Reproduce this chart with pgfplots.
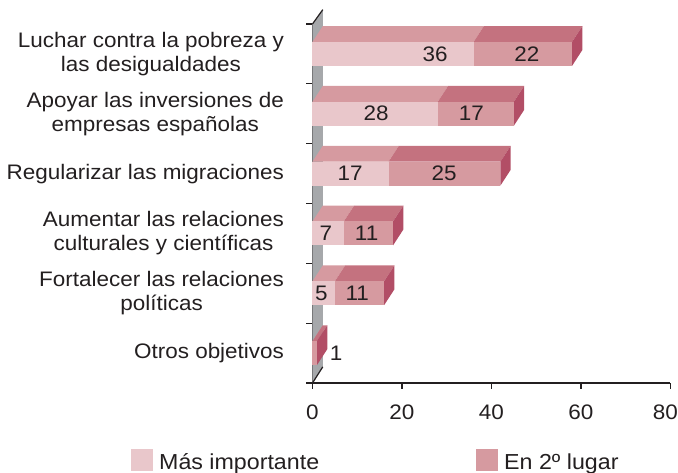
\documentclass[border=0pt]{standalone}
\usepackage{fontspec}
\setmainfont{Liberation Sans}[FakeStretch=1.07]
\usepackage{pgfplots}
\pgfplotsset{compat=1.18}
\definecolor{lfront}{HTML}{E9C7CB}
\definecolor{ltop}{HTML}{D69AA0}
\definecolor{dfront}{HTML}{D69AA0}
\definecolor{dtop}{HTML}{C4727F}
\definecolor{dside}{HTML}{B24E66}
\definecolor{wall}{HTML}{A6A8AB}
\definecolor{txt}{HTML}{231F20}
\def\hw{0.2}\def\dX{2.3}\def\dY{0.265}
% y position, value "Más importante", value "En 2º lugar"
\newcommand\threeDbar[3]{%
  \pgfmathsetmacro\yb{#1-\hw}%
  \pgfmathsetmacro\yt{#1+\hw}%
  \pgfmathsetmacro\yk{#1+\hw+\dY}%
  \pgfmathsetmacro\ybd{#1-\hw+\dY}%
  \pgfmathsetmacro\xa{#2}%
  \pgfmathsetmacro\xs{#2+#3}%
  \pgfmathsetmacro\xad{#2+\dX}%
  \pgfmathsetmacro\xsd{#2+#3+\dX}%
  \edef\temp{%
    \noexpand\addplot[fill=ltop,draw=none] coordinates {(0,\yt) (\xa,\yt) (\xad,\yk) (\dX,\yk)} -- cycle;
    \noexpand\addplot[fill=dtop,draw=none] coordinates {(\xa,\yt) (\xs,\yt) (\xsd,\yk) (\xad,\yk)} -- cycle;
    \noexpand\addplot[fill=dside,draw=none] coordinates {(\xs,\yb) (\xs,\yt) (\xsd,\yk) (\xsd,\ybd)} -- cycle;
    \noexpand\addplot[fill=lfront,draw=none] coordinates {(0,\yb) (\xa,\yb) (\xa,\yt) (0,\yt)} -- cycle;
    \noexpand\addplot[fill=dfront,draw=none] coordinates {(\xa,\yb) (\xs,\yb) (\xs,\yt) (\xa,\yt)} -- cycle;
  }\temp}
\begin{document}
\begin{tikzpicture}
\begin{axis}[
  at={(0,0)}, anchor=south west,
  scale only axis, width=358pt, height=359pt,
  xmin=0, xmax=80, ymin=-0.5, ymax=5.5,
  clip=false,
  axis x line=bottom, axis y line=left,
  axis line style={-, line width=1.2pt, color=txt},
  xtick={0,20,40,60,80},
  xticklabels={0,20,40,60,\hspace*{-10pt}80},
  ytick={0,...,5},
  yticklabels={Otros objetivos,{Fortalecer las relaciones\\políticas},{Aumentar las relaciones\\culturales y científicas},Regularizar las migraciones,{Apoyar las inversiones de\\empresas españolas},{Luchar contra la pobreza y\\las desigualdades}},
  minor ytick={-0.5,0.5,...,5.5},
  tick align=outside,
  major tick length=6pt, minor tick length=6pt,
  tick style={line width=1.2pt, color=txt},
  major y tick style={draw=none},
  /pgf/number format/assume math mode=true,
  every tick label/.append style={font=\fontsize{21}{24}\selectfont, text=txt},
  yticklabel style={align=center, xshift=-19pt},
  xticklabel style={yshift=-12pt},
  legend columns=2,
  legend image code/.code={\fill[#1] (0pt,-9pt) rectangle (22pt,13pt); \path (26pt,0pt);},
  legend style={draw=none, fill=none, at={(-0.507,-0.184)}, anchor=north west,
    inner sep=0pt, font=\fontsize{21.7}{24}\selectfont, text=txt,
    /tikz/every even column/.append style={column sep=155pt}},
  legend cell align=left,
]
\addlegendimage{fill=lfront, draw=none}
\addlegendentry{Más importante}
\addlegendimage{fill=dfront, draw=none}
\addlegendentry{En 2º lugar}
% back wall
\addplot[fill=wall, draw=none] coordinates {(0,-0.5) (\dX,-0.23) (\dX,5.74) (0,5.5)} -- cycle;
\addplot[txt, line width=1.2pt] coordinates {(0,5.5) (\dX,5.74)};
\addplot[txt, line width=1.2pt] coordinates {(0,-0.5) (\dX,-0.23)};
% bars
\threeDbar{5}{36}{22}
\threeDbar{4}{28}{17}
\threeDbar{3}{17}{25}
\threeDbar{2}{7}{11}
\threeDbar{1}{5}{11}
\threeDbar{0}{0}{1}
% value labels
\addplot[draw=none, nodes near coords, point meta=explicit symbolic,
  nodes near coords align=center,
  every node near coord/.append style={font=\fontsize{21}{24}\selectfont, text=txt, anchor=center}]
  coordinates {(27.4,5)[36] (47.9,5)[22] (14.2,4)[28] (35.5,4)[17] (8.4,3)[17] (29.4,3)[25]
               (3.0,2)[7] (12.1,2)[11] (2.0,1)[5] (10.0,1)[11] (5.3,0)[1]};
\end{axis}
\pgfresetboundingbox
\useasboundingbox (-312.5pt,-90pt) rectangle (365.5pt,383pt);
\end{tikzpicture}
\end{document}
